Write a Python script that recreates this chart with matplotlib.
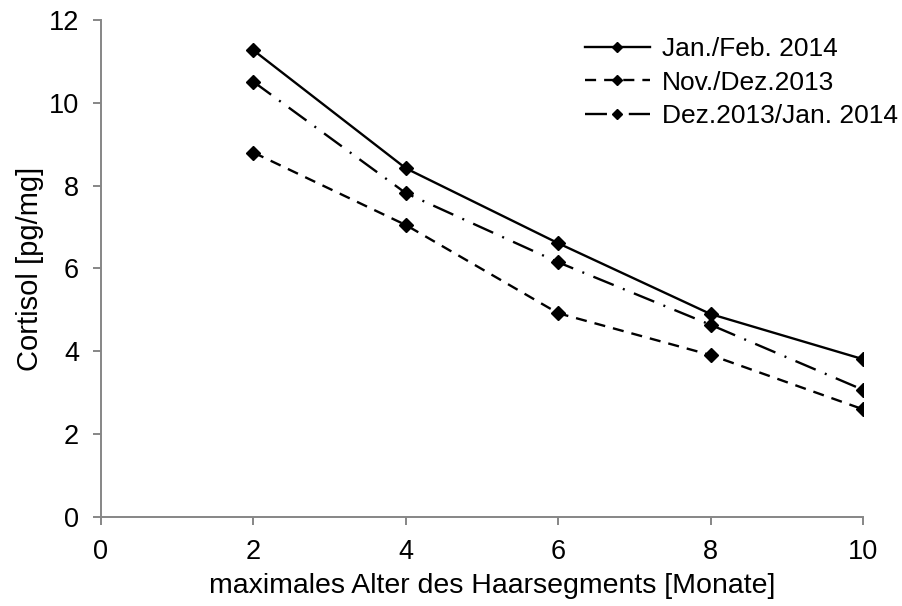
import matplotlib.pyplot as plt

plt.rcParams["font.family"] = ["Liberation Sans", "DejaVu Sans"]

alter_monate = [2, 4, 6, 8, 10]
jan_feb_2014 = [11.27, 8.42, 6.61, 4.90, 3.81]
nov_dez_2013 = [8.80, 7.05, 4.92, 3.91, 2.60]
dez2013_jan2014 = [10.51, 7.82, 6.15, 4.64, 3.07]

x_ticks = [0, 2, 4, 6, 8, 10]
y_ticks = [0, 2, 4, 6, 8, 10, 12]

fig = plt.figure(figsize=(9.03, 6.06), dpi=100)
ax = fig.add_axes([0.1118, 0.1469, 0.8439, 0.8201])

common = dict(color="black", linewidth=1.7, marker="D", markersize=7)
ax.plot(alter_monate, jan_feb_2014, linestyle="-", label="Jan./Feb. 2014", **common)
ax.plot(alter_monate, nov_dez_2013, linestyle=(0, (4.7, 3.4)), label="Nov./Dez.2013", **common)
ax.plot(alter_monate, dez2013_jan2014, linestyle=(0, (9.3, 4.2, 0.85, 4.2)),
        label="Dez.2013/Jan. 2014", **common)

ax.set_xlim(0, 10)
ax.set_ylim(0, 12)
ax.set_xticks(x_ticks)
ax.set_yticks(y_ticks)

for side in ("top", "right"):
    ax.spines[side].set_visible(False)
for side in ("left", "bottom"):
    ax.spines[side].set_color("#868686")
    ax.spines[side].set_linewidth(1.4)
ax.tick_params(direction="out", length=5.8, width=1.4, color="#868686",
               labelsize=19.5, pad=10)

ax.set_xlabel("maximales Alter des Haarsegments [Monate]", fontsize=20.5, labelpad=6)
ax.xaxis.label.set_x(0.513)
ax.set_ylabel("Cortisol [pg/mg]", fontsize=21, labelpad=3)

leg = ax.legend(loc="upper left", bbox_to_anchor=(0.635, 0.966), frameon=False,
                fontsize=19, handlelength=2.46, handletextpad=0.45,
                labelspacing=0.37, borderpad=0, borderaxespad=0,
                markerscale=0.75)

fig.savefig("out.png", dpi=100)
